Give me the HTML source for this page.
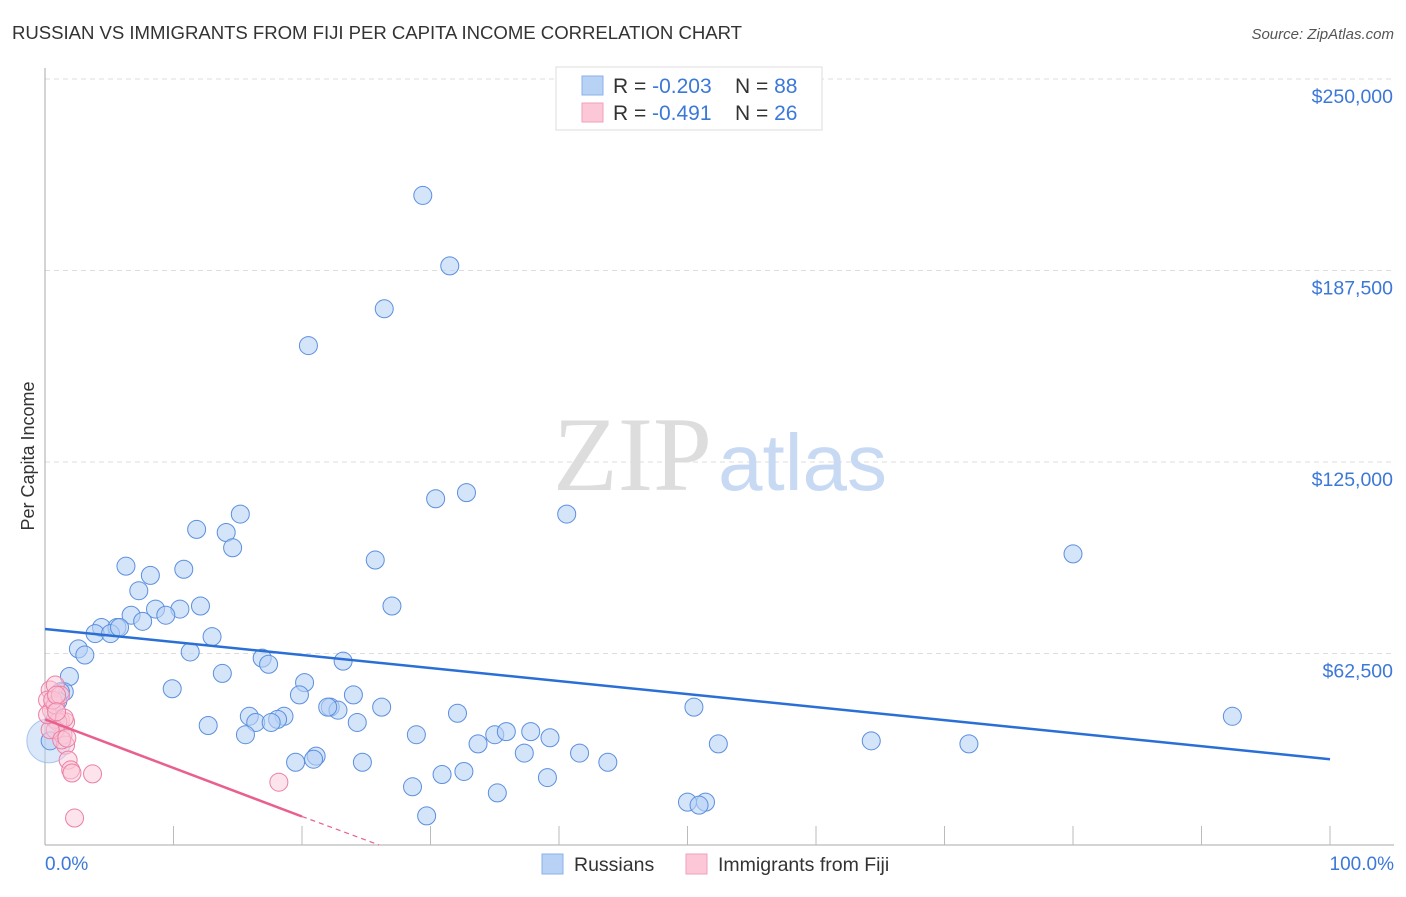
<!DOCTYPE html>
<html><head><meta charset="utf-8">
<style>
body{margin:0;background:#fff;font-family:"Liberation Sans",sans-serif;}
svg text{font-family:"Liberation Sans",sans-serif;}
</style></head>
<body>
<svg id="chart" width="1406" height="892" xmlns="http://www.w3.org/2000/svg">
<text x="12" y="39" font-size="18.6" fill="#333" textLength="730">RUSSIAN VS IMMIGRANTS FROM FIJI PER CAPITA INCOME CORRELATION CHART</text>
<text x="1394" y="39" font-size="15" fill="#555" text-anchor="end" font-style="italic">Source: ZipAtlas.com</text>
<g id="grid"></g>
<text x="712" y="490" font-size="106" fill="#ddd" text-anchor="end" style="font-family:'Liberation Serif',serif">ZIP</text>
<text x="718" y="490" font-size="80" fill="#c8daf3">atlas</text>
<g id="marks"></g>
<text x="34" y="456" font-size="18" fill="#333" text-anchor="middle" transform="rotate(-90 34 456)">Per Capita Income</text>
<text x="45" y="870" font-size="19" fill="#3b78d8">0.0%</text>
<text x="1394" y="870" font-size="19" fill="#3b78d8" text-anchor="end">100.0%</text>
<g>
<rect x="556" y="67" width="266" height="63" fill="#fff" stroke="#ddd"/>
<rect x="582" y="76" width="21" height="19" fill="#b8d2f5" stroke="#8ab2e8"/>
<rect x="582" y="103" width="21" height="19" fill="#fcc8d8" stroke="#f0a0bb"/>
<text x="613" y="93" font-size="21" fill="#333">R = <tspan fill="#3b78d8">-0.203</tspan><tspan x="735">N = </tspan><tspan fill="#3b78d8">88</tspan></text>
<text x="613" y="120" font-size="21" fill="#333">R = <tspan fill="#3b78d8" x="652">-0.491</tspan><tspan x="735">N = </tspan><tspan fill="#3b78d8">26</tspan></text>
</g>
<g>
<rect x="542" y="854" width="21" height="20" fill="#b8d2f5" stroke="#8ab2e8"/>
<text x="574" y="871" font-size="19.5" fill="#333">Russians</text>
<rect x="686" y="854" width="21" height="20" fill="#fcc8d8" stroke="#f0a0bb"/>
<text x="718" y="871" font-size="19.5" fill="#333">Immigrants from Fiji</text>
</g>
</svg>
<script>
const yTicks=[62500,125000,187500,250000];
const yTickLabels=["$62,500","$125,000","$187,500","$250,000"];
const xTicks=[0,10,20,30,40,50,60,70,80,90,100];
const rusX=[29.4,31.5,26.4,20.5,30.4,32.8,40.6,80,15.2,11.8,14.1,14.6,25.7,6.3,10.8,8.2,7.3,12.1,10.5,8.6,9.4,27,6.7,7.6,13,4.4,5.6,3.9,5.1,5.8,2.6,3.1,11.3,16.9,17.4,23.2,13.8,1.9,1.5,9.9,20.2,19.8,24,15.9,18.6,18.1,22.2,22.8,22,26.2,32.1,50.5,92.4,24.3,12.7,16.4,17.6,15.6,28.9,35,35.9,37.8,39.3,33.7,52.4,64.3,71.9,41.6,37.3,21.1,19.5,20.9,24.7,43.8,30.9,32.6,39.1,28.6,35.2,50,51.4,50.9,29.7,1.2,1,0.8,0.4];
const rusY=[212000,189000,175000,163000,113000,115000,108000,95000,108000,103000,102000,97000,93000,91000,90000,88000,83000,78000,77000,77000,75000,78000,75000,73000,68000,71000,71000,69000,69000,71000,64000,62000,63000,61000,59000,60000,56000,55000,50000,51000,53000,49000,49000,42000,42000,41000,45000,44000,45000,45000,43000,45000,42000,40000,39000,40000,40000,36000,36000,36000,37000,37000,35000,33000,33000,34000,33000,30000,30000,29000,27000,28000,27000,27000,23000,24000,22000,19000,17000,14000,14000,13000,9500,50000,47000,41000,34000];
const fijX=[0.4,0.8,0.2,0.5,1.2,1.6,1,1.4,1.6,1.8,2,2.1,3.7,18.2,2.3,0.8,0.4,0.2,1.3,0.8,0.6,1.2,0.9,1.5,1.7,0.9];
const fijY=[50600,52200,47300,44000,40800,40200,40200,35900,32600,27700,24500,23500,23200,20500,8800,37600,37600,42500,34300,45700,47300,48900,48900,41400,34900,43500];
const rusTrend=[[0,70500],[100,28000]];
const fijTrend=[[0,41000],[20,9300],[26,0]];
const X=v=>45+v*12.85, Y=v=>845-v*191.5/62500;
const NS="http://www.w3.org/2000/svg";
const grid=document.getElementById('grid'), marks=document.getElementById('marks');
function mk(tag,attrs,parent){const e=document.createElementNS(NS,tag);for(const k in attrs)e.setAttribute(k,attrs[k]);parent.appendChild(e);return e;}
yTicks.forEach((t,i)=>{
 const l=mk('line',{x1:45,x2:1394,y1:Y(t),y2:Y(t),stroke:'#ddd','stroke-dasharray':'5,4'},grid);
 
 
 const tx=mk('text',{x:1393,y:Y(t)+24,'font-size':19.5,fill:'#3b78d8','text-anchor':'end'},grid);
 tx.textContent=yTickLabels[i];
 
 
});
const ax=mk('line',{x1:45,x2:45,y1:68,y2:845,stroke:'#aaa'},grid);


const bx=mk('line',{x1:45,x2:1394,y1:845,y2:845,stroke:'#aaa'},grid);


xTicks.forEach(t=>{
 if(t===0)return;
 const l=mk('line',{x1:X(t),x2:X(t),y1:826,y2:845,stroke:'#bbb'},grid);
 
 
});
mk('circle',{cx:X(0.3),cy:Y(34000),r:22,fill:'#b8d2f5','fill-opacity':0.5,stroke:'#7fa8e6','stroke-opacity':0.6},marks);
rusX.forEach((x,i)=>{
 const c=mk('circle',{cx:X(x),cy:Y(rusY[i]),r:9,fill:'#b8d2f5','fill-opacity':0.6,stroke:'#5b8fdf','stroke-width':1},marks);
 
 
});
fijX.forEach((x,i)=>{
 const c=mk('circle',{cx:X(x),cy:Y(fijY[i]),r:9,fill:'#fcc8d8','fill-opacity':0.5,stroke:'#ec7fa4','stroke-width':1},marks);
 
 
});
const rl=mk('line',{x1:X(rusTrend[0][0]),y1:Y(rusTrend[0][1]),x2:X(rusTrend[1][0]),y2:Y(rusTrend[1][1]),stroke:'#2a6fd6','stroke-width':2.5},marks);


const fl=mk('line',{x1:X(fijTrend[0][0]),y1:Y(fijTrend[0][1]),x2:X(fijTrend[1][0]),y2:Y(fijTrend[1][1]),stroke:'#e8608e','stroke-width':2.5},marks);


const fd=mk('line',{x1:X(fijTrend[1][0]),y1:Y(fijTrend[1][1]),x2:X(fijTrend[2][0]),y2:Y(fijTrend[2][1]),stroke:'#e8608e','stroke-width':1.2,'stroke-dasharray':'5,4'},marks);


</script>
</body></html>
